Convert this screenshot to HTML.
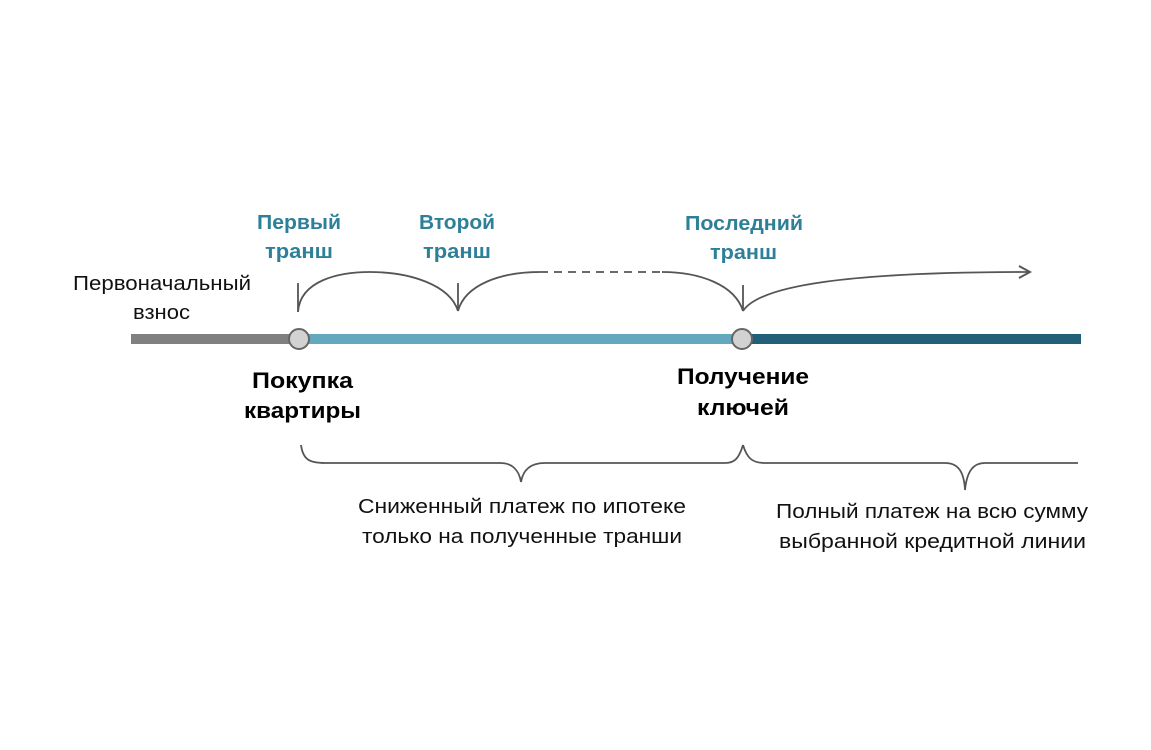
<!DOCTYPE html>
<html><head><meta charset="utf-8"><style>
html,body{margin:0;padding:0;background:#fff;}
svg{display:block;}
text{font-family:"Liberation Sans",sans-serif;}
.t{fill:#2E7F98;font-weight:bold;font-size:20px;}
.b{fill:#000;font-weight:bold;font-size:22px;}
.n{fill:#111;font-size:20px;}
</style></head><body>
<svg width="1151" height="750" viewBox="0 0 1151 750">
<defs><marker id="ar" markerWidth="14" markerHeight="14" refX="12" refY="7" orient="auto" markerUnits="userSpaceOnUse"><path d="M1,1 L12,7 L1,13" fill="none" stroke="#555" stroke-width="2"/></marker></defs>
<line x1="131" y1="339" x2="300" y2="339" stroke="#808080" stroke-width="10"/>
<line x1="300" y1="339" x2="742" y2="339" stroke="#62A8BF" stroke-width="10"/>
<line x1="742" y1="339" x2="1081" y2="339" stroke="#22607A" stroke-width="10"/>
<circle cx="299" cy="339" r="10" fill="#d2d2d2" stroke="#666" stroke-width="2"/>
<circle cx="742" cy="339" r="10" fill="#d2d2d2" stroke="#666" stroke-width="2"/>
<g fill="none" stroke="#555" stroke-width="1.8">
<line x1="298" y1="283" x2="298" y2="312"/>
<path d="M298,312 C300,280 340,272 370,272 C410,272 450,285 458,311"/>
<line x1="458" y1="283" x2="458" y2="311"/>
<path d="M458,311 C465,285 500,272 540,272"/>
<line x1="540" y1="272" x2="660" y2="272" stroke-dasharray="8,6"/>
<line x1="743" y1="285" x2="743" y2="311"/>
<path d="M662,272 C700,272 735,285 743,311"/>
<path d="M743,311 C760,285 850,272 1030,272" marker-end="url(#ar)"/>
<path d="M301,445 C303,460 310,463 325,463 L500,463 C512,463 519,470 521,482 C523,470 530,463 545,463 L725,463 C735,463 739,458 743,445"/>
<path d="M743,445 C747,458 752,463 765,463 L945,463 C957,463 964,470 965,490 C967,470 974,463 985,463 L1078,463"/>
</g>
<text class="t" x="257" y="229" textLength="84" lengthAdjust="spacingAndGlyphs">Первый</text>
<text class="t" x="265" y="258" textLength="68" lengthAdjust="spacingAndGlyphs">транш</text>
<text class="t" x="419" y="229" textLength="76" lengthAdjust="spacingAndGlyphs">Второй</text>
<text class="t" x="423" y="258" textLength="68" lengthAdjust="spacingAndGlyphs">транш</text>
<text class="t" x="685" y="230" textLength="118" lengthAdjust="spacingAndGlyphs">Последний</text>
<text class="t" x="710" y="259" textLength="67" lengthAdjust="spacingAndGlyphs">транш</text>
<text class="n" x="73" y="290" textLength="178" lengthAdjust="spacingAndGlyphs">Первоначальный</text>
<text class="n" x="133" y="319" textLength="57" lengthAdjust="spacingAndGlyphs">взнос</text>
<text class="b" x="252" y="388" textLength="101" lengthAdjust="spacingAndGlyphs">Покупка</text>
<text class="b" x="244" y="418" textLength="117" lengthAdjust="spacingAndGlyphs">квартиры</text>
<text class="b" x="677" y="384" textLength="132" lengthAdjust="spacingAndGlyphs">Получение</text>
<text class="b" x="697" y="415" textLength="92" lengthAdjust="spacingAndGlyphs">ключей</text>
<text class="n" x="358" y="513" textLength="328" lengthAdjust="spacingAndGlyphs">Сниженный платеж по ипотеке</text>
<text class="n" x="362" y="543" textLength="320" lengthAdjust="spacingAndGlyphs">только на полученные транши</text>
<text class="n" x="776" y="518" textLength="312" lengthAdjust="spacingAndGlyphs">Полный платеж на всю сумму</text>
<text class="n" x="779" y="548" textLength="307" lengthAdjust="spacingAndGlyphs">выбранной кредитной линии</text>
</svg>
</body></html>
